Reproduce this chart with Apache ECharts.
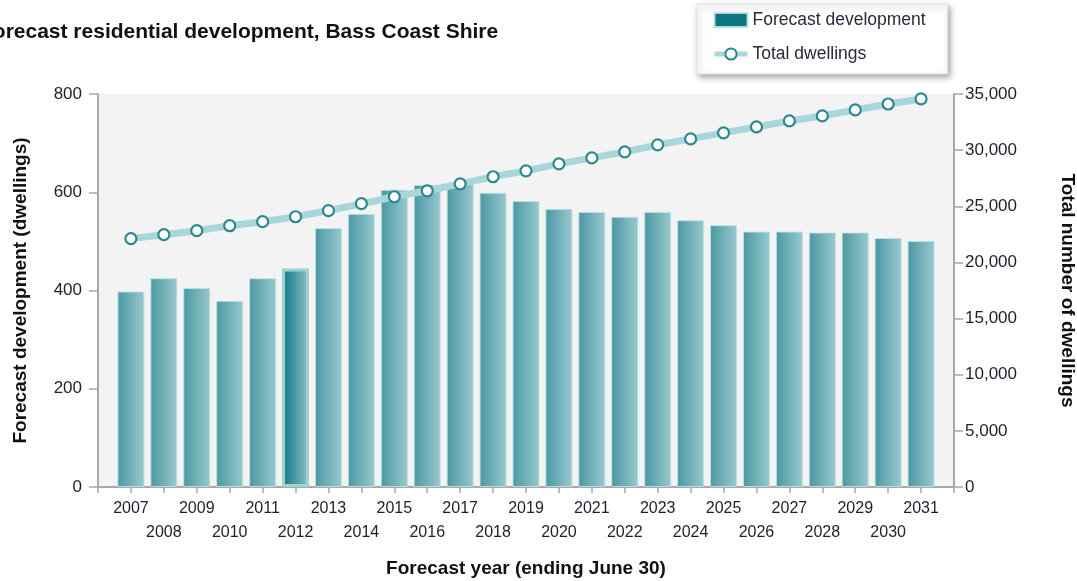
<!DOCTYPE html>
<html>
<head>
<meta charset="utf-8">
<script src="https://cdn.jsdelivr.net/npm/echarts@6/dist/echarts.min.js"></script>
<style>
  body { margin: 0; padding: 0; background: #fff; }
  #chart { width: 1077px; height: 581px; }
</style>
</head>
<body>
<div id="chart"></div>
<script>
// forecast years (ending June 30)
const years = [2007, 2008, 2009, 2010, 2011, 2012, 2013, 2014, 2015, 2016, 2017, 2018, 2019,
  2020, 2021, 2022, 2023, 2024, 2025, 2026, 2027, 2028, 2029, 2030, 2031];
// new dwellings each year
const development = [398, 425, 405, 379, 425, 445, 527, 556, 605, 615, 617, 599, 582,
  566, 560, 550, 560, 543, 533, 520, 520, 518, 518, 507, 501];
// total dwellings
const totalDwellings = [22120, 22470, 22830, 23270, 23630, 24070, 24610, 25230, 25850, 26380, 27000, 27630, 28160,
  28780, 29310, 29850, 30470, 31000, 31540, 32070, 32600, 33050, 33580, 34110, 34560];
const leftTicks = [0, 200, 400, 600, 800];
const rightTicks = [0, 5000, 10000, 15000, 20000, 25000, 30000, 35000];
const highlightYear = 2012;

const barFill = new echarts.graphic.LinearGradient(0, 0, 1, 0, [
  { offset: 0, color: '#4a98a3' },
  { offset: 1, color: '#98c9ce' }
]);
const barFillHi = new echarts.graphic.LinearGradient(0, 0, 1, 0, [
  { offset: 0, color: '#0d7682' },
  { offset: 1, color: '#8cc3c9' }
]);

const axisGrey = '#a8a8a8';
const labelColor = '#1e1e2e';
const fontFam = '"Liberation Sans", Arial, sans-serif';

let chart = echarts.init(document.getElementById('chart'));
let option = {
  animation: false,
  textStyle: { fontFamily: fontFam },
  title: {
    text: 'Forecast residential development, Bass Coast Shire',
    left: -25,
    top: 17,
    textStyle: { fontSize: 21, fontWeight: 'bold', color: '#111' }
  },
  legend: {
    orient: 'vertical',
    left: 697,
    top: 4,
    width: 250,
    padding: [7, 22, 11, 15],
    itemGap: 16,
    itemWidth: 33,
    itemHeight: 14,
    backgroundColor: '#fff',
    borderColor: '#e2e2e2',
    borderWidth: 1,
    shadowColor: 'rgba(0,0,0,0.35)',
    shadowBlur: 6,
    shadowOffsetX: 2,
    shadowOffsetY: 3,
    textStyle: { fontSize: 17.5, color: '#2a2a3a' },
    data: [
      { name: 'Forecast development', icon: 'rect', itemStyle: { color: '#0d7682' } },
      {
        name: 'Total dwellings',
        lineStyle: { color: '#a9d7d9', width: 5 },
        itemStyle: { color: '#fff', borderColor: '#2b8893', borderWidth: 2 }
      }
    ]
  },
  grid: {
    left: 98,
    right: 123,
    top: 94,
    bottom: 94,
    outerBoundsMode: 'none',
    containLabel: false,
    show: true,
    backgroundColor: '#f3f3f3',
    borderWidth: 0
  },
  xAxis: {
    type: 'value',
    min: 2006,
    max: 2032,
    interval: 1,
    name: 'Forecast year (ending June 30)',
    nameLocation: 'middle',
    nameGap: 72,
    nameTextStyle: { fontSize: 19, fontWeight: 'bold', color: '#111' },
    splitLine: { show: false },
    axisLine: { lineStyle: { color: axisGrey, width: 2 } },
    axisTick: { length: 6, lineStyle: { color: axisGrey, width: 1.5 } },
    axisLabel: {
      fontSize: 16,
      color: labelColor,
      margin: 10,
      lineHeight: 24,
      formatter: function (v) {
        if (v < years[0] || v > years[years.length - 1]) return '';
        return v % 2 === 1 ? String(v) : '\n' + v;
      }
    }
  },
  yAxis: [
    {
      type: 'value',
      min: leftTicks[0],
      max: leftTicks[leftTicks.length - 1],
      interval: leftTicks[1] - leftTicks[0],
      name: 'Forecast development (dwellings)',
      nameLocation: 'middle',
      nameGap: 68,
      nameTextStyle: { fontSize: 19, fontWeight: 'bold', color: '#111' },
      splitLine: { show: false },
      axisLine: { show: true, lineStyle: { color: axisGrey, width: 2 } },
      axisTick: { show: true, length: 9, lineStyle: { color: axisGrey, width: 1.5 } },
      axisLabel: { fontSize: 17, color: labelColor, margin: 16 }
    },
    {
      type: 'value',
      position: 'right',
      min: rightTicks[0],
      max: rightTicks[rightTicks.length - 1],
      interval: rightTicks[1] - rightTicks[0],
      name: 'Total number of dwellings',
      nameLocation: 'middle',
      nameRotate: -90,
      nameGap: 104,
      nameTextStyle: { fontSize: 19, fontWeight: 'bold', color: '#111' },
      splitLine: { show: false },
      axisLine: { show: true, lineStyle: { color: axisGrey, width: 2 } },
      axisTick: { show: true, length: 9, lineStyle: { color: axisGrey, width: 1.5 } },
      axisLabel: {
        fontSize: 17,
        color: labelColor,
        margin: 11,
        formatter: function (v) { return v.toLocaleString('en-US'); }
      }
    }
  ],
  series: [
    {
      name: 'Forecast development',
      type: 'bar',
      yAxisIndex: 0,
      barWidth: 27,
      itemStyle: { color: barFill, borderColor: 'rgba(190,225,228,0.9)', borderWidth: 1 },
      data: years.map(function (y, i) {
        let item = { value: [y, development[i]] };
        if (y === highlightYear) {
          item.itemStyle = { color: barFillHi, borderColor: '#9fd0d4', borderWidth: 3 };
        }
        return item;
      })
    },
    {
      name: 'Total dwellings',
      type: 'line',
      yAxisIndex: 1,
      symbol: 'circle',
      symbolSize: 11,
      lineStyle: { color: '#a9d7d9', width: 7 },
      itemStyle: { color: '#fff', borderColor: '#2b8893', borderWidth: 2.2 },
      data: years.map(function (y, i) { return [y, totalDwellings[i]]; })
    }
  ]
};
chart.setOption(option);
</script>
</body>
</html>
